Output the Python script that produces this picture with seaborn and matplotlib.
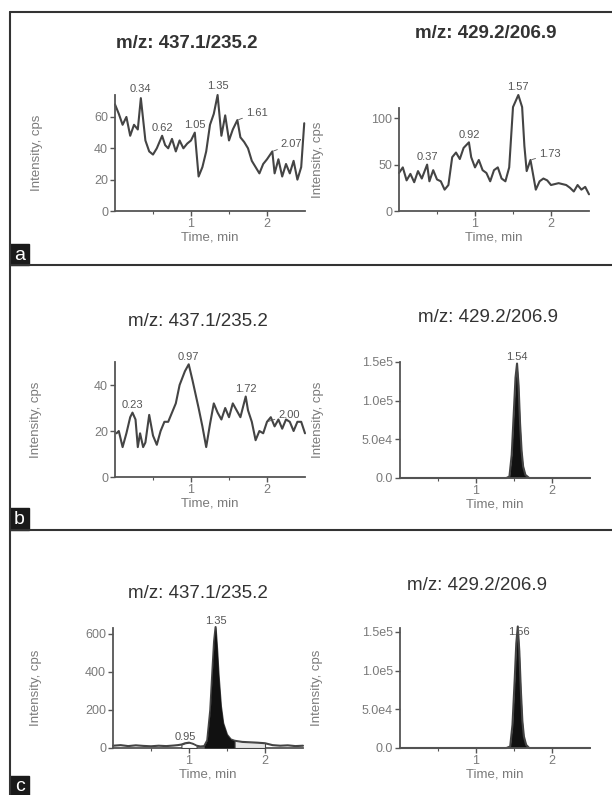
"""Chromatogram panels a-c (m/z 437.1/235.2 and 429.2/206.9)."""

import matplotlib

matplotlib.use("Agg")
import matplotlib.pyplot as plt
import numpy as np
import seaborn as sns
from matplotlib.lines import Line2D
from matplotlib.patches import Rectangle

W, H = 612, 795

# ---- data ----------------------------------------------------------------
titles_left = "m/z: 437.1/235.2"
titles_right = "m/z: 429.2/206.9"
panel_letters = ["a", "b", "c"]

a_left_t = [0.00, 0.05, 0.10, 0.15, 0.20, 0.25, 0.30, 0.34, 0.40, 0.45,
            0.50, 0.55, 0.62, 0.66, 0.70, 0.75, 0.80, 0.85, 0.90, 0.95,
            1.00, 1.05, 1.10, 1.15, 1.20, 1.25, 1.30, 1.35, 1.40, 1.45,
            1.50, 1.55, 1.61, 1.65, 1.70, 1.75, 1.80, 1.85, 1.90, 1.95,
            2.00, 2.07, 2.10, 2.15, 2.20, 2.25, 2.30, 2.35, 2.40, 2.45, 2.49]
a_left_v = [68, 62, 55, 60, 48, 55, 52, 72, 45, 38,
            36, 40, 48, 42, 40, 46, 38, 45, 40, 43,
            45, 50, 22, 28, 38, 55, 62, 74, 48, 61,
            45, 52, 58, 47, 44, 40, 32, 28, 24, 30,
            33, 38, 24, 33, 22, 30, 24, 32, 20, 28, 56]
a_left_peaks = ["0.34", "0.62", "1.05", "1.35", "1.61", "2.07"]

a_right_t = [0.00, 0.05, 0.10, 0.15, 0.20, 0.25, 0.30, 0.37, 0.40, 0.45,
             0.50, 0.55, 0.60, 0.65, 0.70, 0.75, 0.80, 0.85, 0.92, 0.95,
             1.00, 1.05, 1.10, 1.15, 1.20, 1.25, 1.30, 1.35, 1.40, 1.45,
             1.50, 1.57, 1.62, 1.65, 1.68, 1.73, 1.80, 1.85, 1.90, 1.95,
             2.00, 2.10, 2.20, 2.25, 2.30, 2.35, 2.40, 2.45, 2.50]
a_right_v = [41, 47, 33, 40, 31, 43, 35, 50, 32, 44,
             34, 32, 23, 28, 58, 63, 56, 68, 74, 58,
             47, 55, 44, 41, 32, 44, 47, 35, 32, 47,
             112, 125, 112, 70, 43, 55, 23, 32, 35, 33,
             28, 30, 28, 25, 21, 28, 23, 26, 18]
a_right_peaks = ["0.37", "0.92", "1.57", "1.73"]

b_left_t = [0.02, 0.05, 0.10, 0.15, 0.20, 0.23, 0.27, 0.30, 0.33, 0.37,
            0.40, 0.45, 0.50, 0.55, 0.60, 0.65, 0.70, 0.75, 0.80, 0.85,
            0.92, 0.97, 1.02, 1.10, 1.15, 1.20, 1.25, 1.30, 1.35, 1.40,
            1.45, 1.50, 1.55, 1.60, 1.65, 1.72, 1.75, 1.80, 1.85, 1.90,
            1.95, 2.00, 2.05, 2.10, 2.15, 2.20, 2.25, 2.30, 2.35, 2.40,
            2.45, 2.50]
b_left_v = [19, 20, 13, 19, 26, 28, 25, 13, 19, 13,
            15, 27, 18, 14, 20, 24, 24, 28, 32, 40,
            46, 49, 42, 30, 22, 13, 23, 32, 28, 25,
            30, 26, 32, 29, 26, 35, 29, 24, 16, 20,
            19, 24, 26, 22, 25, 21, 25, 24, 20, 24,
            24, 19]
b_left_peaks = ["0.23", "0.97", "1.72", "2.00"]

b_right_t = [0.00, 0.50, 1.00, 1.40, 1.44, 1.47, 1.50, 1.52, 1.54, 1.56,
             1.58, 1.60, 1.62, 1.65, 1.70, 2.00, 2.50]
b_right_v = [0, 0, 0, 0, 2e3, 3.0e4, 9.0e4, 1.30e5, 1.48e5, 1.20e5,
             7.0e4, 3.5e4, 1.5e4, 4e3, 0, 0, 0]
b_right_peaks = ["1.54"]

c_left_t = [0.00, 0.10, 0.20, 0.30, 0.40, 0.50, 0.60, 0.70, 0.80, 0.85,
            0.90, 0.95, 1.00, 1.05, 1.10, 1.15, 1.20, 1.24, 1.28, 1.31,
            1.33, 1.35, 1.37, 1.39, 1.42, 1.45, 1.50, 1.55, 1.60, 1.70,
            1.80, 1.90, 2.00, 2.10, 2.20, 2.30, 2.40, 2.50]
c_left_v = [12, 15, 10, 14, 11, 9, 12, 10, 13, 15,
            18, 25, 28, 22, 12, 8, 10, 40, 200, 420,
            560, 635, 520, 380, 220, 130, 70, 45, 38, 32,
            30, 28, 25, 15, 12, 14, 10, 12]
c_left_peaks = ["0.95", "1.35"]

c_right_t = [0.00, 0.50, 1.00, 1.40, 1.45, 1.48, 1.51, 1.53, 1.55, 1.57,
             1.59, 1.61, 1.63, 1.66, 1.70, 2.00, 2.50]
c_right_v = [0, 0, 0, 0, 2e3, 3.0e4, 9.0e4, 1.35e5, 1.57e5, 1.25e5,
             7.5e4, 3.5e4, 1.5e4, 4e3, 0, 0, 0]
c_right_peaks = ["1.56"]

yticks_a_left = [0, 20, 40, 60]
yticks_a_right = [0, 50, 100]
yticks_b_left = [0, 20, 40]
yticks_c_left = [0, 200, 400, 600]
yticks_big = [0, 5e4, 1e5, 1.5e5]
ytick_labels_big = ["0.0", "5.0e4", "1.0e5", "1.5e5"]
xticks = [1, 2]

# ---- styling --------------------------------------------------------------
sns.set_theme(style="ticks")
plt.rcParams["font.family"] = ["Liberation Sans", "DejaVu Sans"]

LINE = "#444444"
AX = "#555555"
TXT = "#7a7a7a"

fig = plt.figure(figsize=(W / 100, H / 100), dpi=100)
fig.patch.set_facecolor("white")


def px_rect(left, top, right, bottom):
    return [left / W, 1 - bottom / H, (right - left) / W, (bottom - top) / H]


def fx(x):
    return x / W


def fy(y):
    return 1 - y / H


def chrom(rect, t, v, ylim, yticks, ylabels, peaks, offsets, ylab_x):
    ax = fig.add_axes(px_rect(*rect))
    sns.lineplot(x=t, y=v, ax=ax, color=LINE, lw=1.5, sort=False)
    for ln in ax.lines:
        ln.set_clip_on(False)
    ax.set_xlim(0, 2.5)
    ax.set_ylim(*ylim)
    ax.set_xticks(xticks)
    ax.set_xticks([0.5, 1.5], minor=True)
    ax.set_xticklabels([str(x) for x in xticks])
    ax.set_yticks(yticks)
    ax.set_yticklabels(ylabels)
    ax.tick_params(axis="both", which="major", length=3.5, width=1.0,
                   color=AX, labelsize=9, labelcolor=TXT, pad=1.5)
    ax.tick_params(axis="x", which="minor", length=2.5, width=0.8, color=AX)
    for s in ("top", "right"):
        ax.spines[s].set_visible(False)
    for s in ("left", "bottom"):
        ax.spines[s].set_color(AX)
        ax.spines[s].set_linewidth(1.3)
    ax.set_xlabel("Time, min", fontsize=9.5, color=TXT, labelpad=1)
    ax.set_ylabel("Intensity, cps", fontsize=9.5, color=TXT)
    ax.yaxis.set_label_coords((ylab_x - rect[0]) / (rect[2] - rect[0]), 0.5)
    ax.set_facecolor("none")
    for lab, (dx, dy) in zip(peaks, offsets):
        pt = float(lab)
        pv = float(np.interp(pt, t, v))
        if dx:
            ax.annotate(lab, xy=(pt, pv), xytext=(dx, dy),
                        textcoords="offset points", ha="left", va="center",
                        fontsize=8, color="#555555", annotation_clip=False,
                        arrowprops=dict(arrowstyle="-", lw=0.6,
                                        color="#555555", shrinkA=0,
                                        shrinkB=1))
        else:
            ax.annotate(lab, xy=(pt, pv), xytext=(0, dy),
                        textcoords="offset points", ha="center",
                        va="bottom", fontsize=8, color="#555555",
                        annotation_clip=False)
    return ax


# row a
chrom((115, 95, 305, 211), a_left_t, a_left_v, (0, 74), yticks_a_left,
      [str(y) for y in yticks_a_left], a_left_peaks,
      [(0, 3), (0, 2), (0, 2), (0, 3), (6, 5), (6, 5)], 43)
chrom((399, 108, 589, 211), a_right_t, a_right_v, (0, 111), yticks_a_right,
      [str(y) for y in yticks_a_right], a_right_peaks,
      [(0, 2), (0, 2), (0, 2), (6, 4)], 324)

# row b
chrom((115, 362, 305, 477), b_left_t, b_left_v, (0, 50), yticks_b_left,
      [str(y) for y in yticks_b_left], b_left_peaks,
      [(0, 2), (0, 2), (0, 2), (8, 5)], 42)
axb = chrom((400, 362, 590, 478), b_right_t, b_right_v, (0, 1.5e5),
            yticks_big, ytick_labels_big, b_right_peaks, [(0, 1)], 324)
axb.fill_between(b_right_t, b_right_v, color="#111111", lw=0)

# row c
axc = chrom((113, 628, 303, 748), c_left_t, c_left_v, (0, 630),
            yticks_c_left, [str(y) for y in yticks_c_left], c_left_peaks,
            [(0, 1), (0, 1)], 42)
ct = np.array(c_left_t)
cv = np.array(c_left_v)
axc.fill_between(ct, cv, where=(ct >= 0.88) & (ct <= 1.12),
                 facecolor="white", edgecolor=LINE, lw=0.8, zorder=3)
axc.fill_between(ct, cv, where=(ct >= 1.2) & (ct <= 1.6),
                 color="#111111", lw=0, zorder=3, clip_on=False)
axc.fill_between(ct, cv, where=(ct >= 1.6) & (ct <= 2.0),
                 facecolor="#e6e6e6", edgecolor=LINE, lw=0.8, zorder=3)
axr = chrom((400, 628, 590, 748), c_right_t, c_right_v, (0, 1.55e5),
            yticks_big, ytick_labels_big, c_right_peaks, [(0, 1)], 323)
axr.fill_between(c_right_t, c_right_v, color="#111111", lw=0, clip_on=False)

# titles
title_pos = [((187, 43), (486, 33), "bold"),
             ((198, 322), (488, 318), "normal"),
             ((198, 593), (477, 585), "normal")]
for (lp, rp, wt) in title_pos:
    fig.text(fx(lp[0]), fy(lp[1]), titles_left, ha="center", va="center",
             fontsize=13.5, color="#333333", weight=wt)
    fig.text(fx(rp[0]), fy(rp[1]), titles_right, ha="center", va="center",
             fontsize=13.5, color="#333333", weight=wt)

# frame and separators
frame = dict(color="#333333", lw=1.5, transform=fig.transFigure)
fig.lines.append(Line2D([fx(10), fx(10)], [fy(12), fy(795)], **frame))
for y in (12, 265, 530):
    fig.lines.append(Line2D([fx(10), fx(612)], [fy(y), fy(y)], **frame))

# panel letters
for letter, (top, bottom) in zip(panel_letters,
                                 [(244, 265), (508, 530), (776, 795)]):
    fig.patches.append(Rectangle((fx(10), fy(bottom)), fx(19),
                                 (bottom - top) / H, color="#1a1a1a",
                                 transform=fig.transFigure))
    fig.text(fx(19.5), fy((top + bottom) / 2 + 1), letter, ha="center",
             va="center", fontsize=14, color="white")

fig.savefig("out.png", dpi=100)
